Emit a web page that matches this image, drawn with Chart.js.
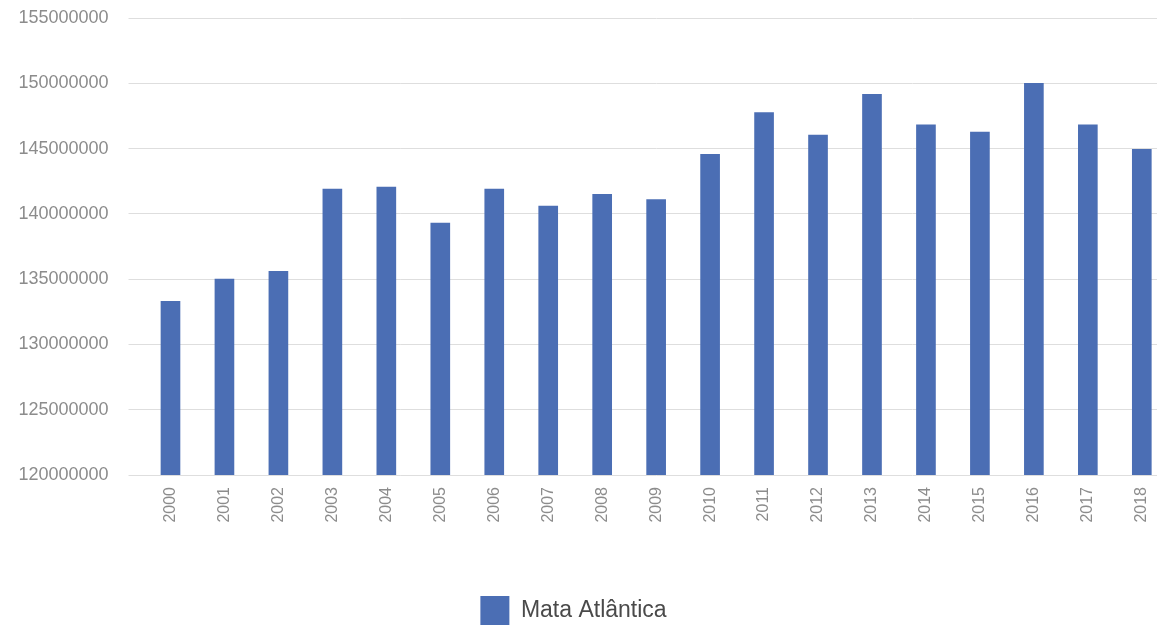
<!DOCTYPE html>
<html>
<head>
<meta charset="utf-8">
<title>Mata Atlântica</title>
<script src="https://cdn.jsdelivr.net/npm/chart.js@4"></script>
<style>
    html, body {
        margin: 0;
        padding: 0;
        overflow: hidden;
        background: #ffffff;
    }
</style>
</head>
<body>
<canvas id="bar-chart" width="1173" height="625"></canvas>
<script>
const years = ["2000", "2001", "2002", "2003", "2004", "2005", "2006", "2007", "2008", "2009",
    "2010", "2011", "2012", "2013", "2014", "2015", "2016", "2017", "2018"]
const mataAtlantica = [133300000, 135000000, 135600000, 141900000, 142050000, 139300000, 141900000,
    140600000, 141500000, 141100000, 144550000, 147760000, 146040000, 149160000, 146820000,
    146270000, 150000000, 146820000, 144950000]
const yTicks = [120000000, 125000000, 130000000, 135000000, 140000000, 145000000, 150000000, 155000000]

const fontFamily = "'Liberation Sans', Arial, Helvetica, sans-serif"

// legend sits a bit left of centre and lower in the original
const legendShift = {
    id: "legendShift",
    afterLayout(chart) {
        chart.legend.left -= 13
        chart.legend.right -= 13
        chart.legend.top += 10
        chart.legend.bottom += 10
    }
}

let barCanvas = document.getElementById("bar-chart").getContext("2d")

let barChart = new Chart(barCanvas, {
    type: 'bar',
    data: {
        labels: years,
        datasets: [{
            label: "Mata Atlântica",
            data: mataAtlantica,
            backgroundColor: "#4b6eb4",
            borderWidth: 0,
            barThickness: 19
        }]
    },
    options: {
        responsive: false,
        animation: false,
        devicePixelRatio: 1,
        layout: {
            padding: { top: 18, right: 0, bottom: 0, left: 0 }
        },
        plugins: {
            legend: {
                position: 'bottom',
                labels: {
                    boxWidth: 29,
                    boxHeight: 29,
                    padding: 10,
                    color: "#4a4a4a",
                    font: { family: fontFamily, size: 23 }
                }
            },
            tooltip: { enabled: false }
        },
        scales: {
            x: {
                grid: { display: false, drawTicks: false },
                border: { display: false },
                ticks: {
                    color: "#8c8c8c",
                    font: { family: fontFamily, size: 16 },
                    minRotation: 90,
                    maxRotation: 90,
                    padding: 12,
                    autoSkip: false
                },
                afterFit: function (scale) {
                    scale.height = 101
                }
            },
            y: {
                min: yTicks[0],
                max: yTicks[yTicks.length - 1],
                grid: {
                    color: "#dedede",
                    lineWidth: 1,
                    drawTicks: true,
                    tickLength: 15
                },
                border: { display: false },
                ticks: {
                    stepSize: yTicks[1] - yTicks[0],
                    color: "#8c8c8c",
                    font: { family: fontFamily, size: 18 },
                    padding: 20,
                    callback: function (value) {
                        return String(value)
                    }
                },
                afterFit: function (scale) {
                    scale.width = 143.5
                    scale.paddingTop = 0
                    scale.paddingBottom = 0
                }
            }
        }
    },
    plugins: [legendShift]
})
</script>
</body>
</html>
